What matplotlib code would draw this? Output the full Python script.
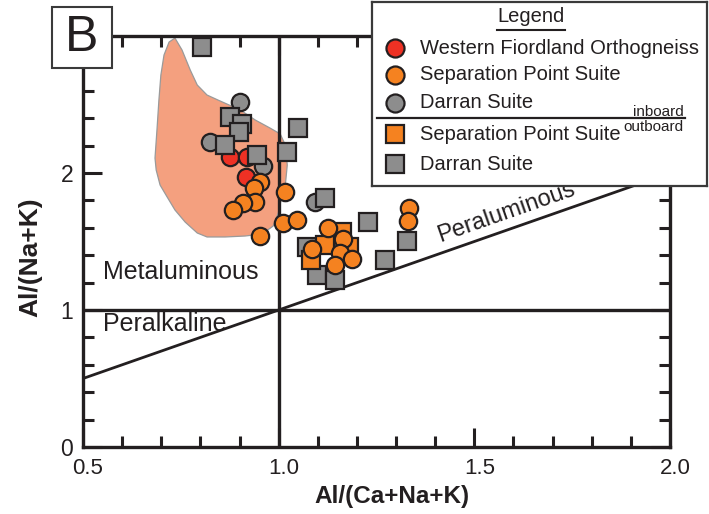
import matplotlib.pyplot as plt
import matplotlib.transforms as mtransforms
from matplotlib.patches import Polygon, Rectangle
from matplotlib.ticker import MultipleLocator

plt.rcParams['font.family'] = ['Liberation Sans', 'DejaVu Sans']

INK = '#231f20'
RED = '#ee3124'
ORANGE = '#f58220'
GRAY = '#8d8d8d'
FIELD = '#f4a07f'

# ---------------- data ----------------
# Western Fiordland Orthogneiss field (outline)
field_x = [0.735, 0.753, 0.774, 0.792, 0.817, 0.850, 0.902, 0.940, 0.978, 1.004,
           1.017, 1.022, 1.017, 1.006, 0.999, 0.986, 0.958, 0.914, 0.863, 0.817,
           0.792, 0.761, 0.735, 0.715, 0.697, 0.687, 0.684, 0.689, 0.694, 0.699,
           0.707, 0.720]
field_y = [2.985, 2.898, 2.752, 2.642, 2.569, 2.526, 2.460, 2.387, 2.328, 2.285,
           2.204, 2.058, 1.912, 1.803, 1.708, 1.613, 1.555, 1.540, 1.533, 1.533,
           1.562, 1.642, 1.730, 1.825, 1.912, 2.022, 2.109, 2.314, 2.533, 2.715,
           2.861, 2.956]

# Western Fiordland Orthogneiss
wfo_x = [0.876, 0.919, 0.917]
wfo_y = [2.117, 2.117, 1.971]

# Separation Point Suite, inboard
sps_in_x = [0.953, 0.937, 0.940, 0.909, 0.884, 1.017, 1.012, 1.047, 0.953,
            1.334, 1.331, 1.127, 1.165, 1.086, 1.157, 1.188, 1.144]
sps_in_y = [1.934, 1.891, 1.788, 1.781, 1.730, 1.861, 1.635, 1.657, 1.540,
            1.745, 1.650, 1.599, 1.518, 1.445, 1.416, 1.372, 1.328]

# Darran Suite, inboard
dar_in_x = [0.902, 0.825, 0.960, 1.093]
dar_in_y = [2.518, 2.226, 2.051, 1.788]

# Separation Point Suite, outboard
sps_out_x = [1.162, 1.180, 1.119, 1.083]
sps_out_y = [1.569, 1.460, 1.474, 1.365]

# Darran Suite, outboard
dar_out_x = [0.804, 0.876, 0.907, 0.899, 0.863, 0.945, 1.050, 1.022, 1.119,
             1.229, 1.329, 1.272, 1.073, 1.098, 1.145]
dar_out_y = [2.920, 2.409, 2.358, 2.299, 2.204, 2.131, 2.328, 2.153, 1.818,
             1.642, 1.504, 1.365, 1.460, 1.255, 1.219]

x_major = [0.5, 1.0, 1.5, 2.0]
x_labels = ['0.5', '1.0', '1.5', '2.0']
y_major = [0, 1, 2, 3]
y_labels = ['0', '1', '2', '']

legend_rows = [
    ('o', RED, 'Western Fiordland Orthogneiss'),
    ('o', ORANGE, 'Separation Point Suite'),
    ('o', GRAY, 'Darran Suite'),
    ('s', ORANGE, 'Separation Point Suite'),
    ('s', GRAY, 'Darran Suite'),
]

# ---------------- figure ----------------
W, H = 709, 514
fig = plt.figure(figsize=(W / 100, H / 100), dpi=100)
ax = fig.add_axes([83 / W, 1 - 447 / H, (670 - 83) / W, (447 - 36) / H])

ax.add_patch(Polygon(list(zip(field_x, field_y)), closed=True,
                     facecolor=FIELD, edgecolor='#9a9a9a', lw=0.9, zorder=1))

# classification lines
ax.plot([0.5, 2.0], [0.5, 2.0], color=INK, lw=2.0, zorder=2)
ax.axvline(1.0, color=INK, lw=2.4, zorder=2)
ax.axhline(1.0, color=INK, lw=2.4, zorder=2)

mk = dict(ls='none', mec=INK, mew=1.6)
ax.plot(dar_in_x, dar_in_y, marker='o', ms=12.5, mfc=GRAY, zorder=3, **mk)
ax.plot(wfo_x, wfo_y, marker='o', ms=12.5, mfc=RED, zorder=4, **mk)
ax.plot(dar_out_x, dar_out_y, marker='s', ms=13.5, mfc=GRAY, zorder=5, **mk)
ax.plot(sps_out_x, sps_out_y, marker='s', ms=13.5, mfc=ORANGE, zorder=6, **mk)
ax.plot(sps_in_x, sps_in_y, marker='o', ms=12.5, mfc=ORANGE, zorder=7, **mk)

ax.text(0.551, 1.277, 'Metaluminous', fontsize=18, color=INK,
        ha='left', va='center')
ax.text(0.551, 0.898, 'Peralkaline', fontsize=18, color=INK,
        ha='left', va='center')
ax.text(1.582, 1.710, 'Peraluminous', fontsize=17, color=INK,
        rotation=45, transform_rotates_text=True, rotation_mode='anchor',
        ha='center', va='center')

ax.set_xlim(0.5, 2.0)
ax.set_ylim(0, 3)
ax.set_xticks(x_major)
ax.set_xticklabels(x_labels, fontsize=16, color=INK)
ax.set_yticks(y_major)
ax.set_yticklabels(y_labels, fontsize=16.5, color=INK)
ax.xaxis.set_minor_locator(MultipleLocator(0.1))
ax.yaxis.set_minor_locator(MultipleLocator(0.2))
ax.tick_params(which='both', direction='in', top=True, right=True,
               width=2.2, color=INK)
ax.tick_params(which='major', length=14)
ax.tick_params(which='minor', length=8)
ax.tick_params(axis='x', pad=8)
ax.tick_params(axis='y', pad=7)
for s in ax.spines.values():
    s.set_linewidth(2.4)
    s.set_color(INK)

# x tick labels sit a little right of their ticks
shift = mtransforms.ScaledTranslation(5 / 100, 0, fig.dpi_scale_trans)
for lbl in ax.get_xticklabels():
    lbl.set_transform(lbl.get_transform() + shift)

fig.text(392 / W, 1 - 497 / H, 'Al/(Ca+Na+K)', fontsize=17.5, fontweight='bold',
         color=INK, ha='center', va='center')
fig.text(30 / W, 1 - 257 / H, 'Al/(Na+K)', fontsize=19, fontweight='bold',
         color=INK, ha='center', va='center', rotation=90)

# panel letter
fig.add_artist(Rectangle((52 / W, 1 - 68 / H), 60 / W, 61 / H,
                         transform=fig.transFigure, facecolor='white',
                         edgecolor='#3a3a3a', lw=1.5, zorder=5))
fig.text(82 / W, 1 - 38 / H, 'B', fontsize=36, color=INK,
         ha='center', va='center', zorder=6)

# legend box (pixel coordinates)
lax = fig.add_axes([372 / W, 1 - 186 / H, 335 / W, 184 / H])
lax.set_zorder(10)
lax.set_xlim(372, 707)
lax.set_ylim(186, 2)
lax.set_xticks([])
lax.set_yticks([])
for s in lax.spines.values():
    s.set_linewidth(1.6)
    s.set_color('#3a3a3a')

lax.text(531, 16, 'Legend', fontsize=14.5, color=INK, ha='center', va='center')
lax.plot([497, 565], [30, 30], color=INK, lw=1.5)

row_y = [48, 75, 103, 134, 164]
for (m, c, label), yy in zip(legend_rows, row_y):
    lax.plot([395], [yy], marker=m, ms=13.5 if m == 's' else 13, mfc=c,
             mec=INK, mew=1.6, ls='none')
    lax.text(420, yy, label, fontsize=14.5, color=INK, ha='left',
             va='center')

lax.plot([377, 685], [118, 118], color=INK, lw=1.6)
lax.text(684, 112, 'inboard', fontsize=11, color=INK, ha='right', va='center')
lax.text(684, 127, 'outboard', fontsize=11, color=INK, ha='right', va='center')

fig.savefig('out.png', dpi=100)
